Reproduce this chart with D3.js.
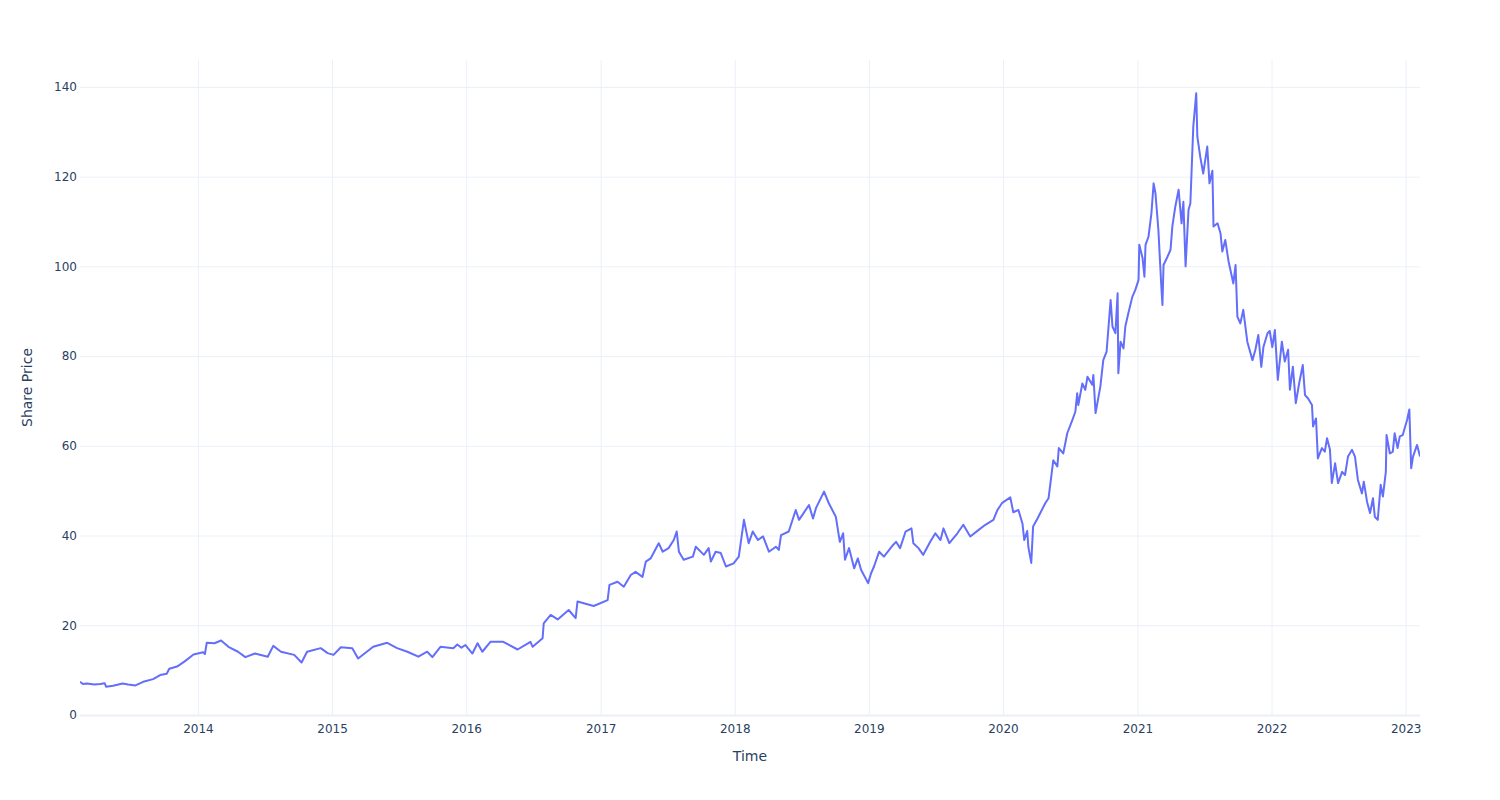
<!DOCTYPE html>
<html>
<head>
<meta charset="utf-8">
<script src="https://cdn.jsdelivr.net/npm/d3@7"></script>
<style>
  html, body { margin: 0; padding: 0; background: #fff; }
  svg { display: block; font-family: "DejaVu Sans", Verdana, sans-serif; }
</style>
</head>
<body>
<svg id="chart" width="1500" height="800"></svg>
<script>
// ---- Data ----
const p2013 = [["2013-02-14",7.4],["2013-02-22",6.9],["2013-03-05",7.0],["2013-03-25",6.8],["2013-04-10",6.9],["2013-04-22",7.1],["2013-04-26",6.3],["2013-05-15",6.5],["2013-06-10",7.0],["2013-06-25",6.8],["2013-07-15",6.6],["2013-08-05",7.4],["2013-09-01",8.0],["2013-09-20",8.9],["2013-10-08",9.2],["2013-10-15",10.3],["2013-11-05",10.8],["2013-11-25",11.9],["2013-12-20",13.5]];
const p2014 = [["2014-01-15",14.0],["2014-01-20",13.6],["2014-01-25",16.1],["2014-02-15",16.0],["2014-03-05",16.6],["2014-03-25",15.2],["2014-04-20",14.1],["2014-05-10",12.9],["2014-06-05",13.7],["2014-07-10",13.0],["2014-07-25",15.4],["2014-08-15",14.1],["2014-09-20",13.4],["2014-10-10",11.7],["2014-10-25",14.1],["2014-12-01",14.9],["2014-12-20",13.8]];
const p2015 = [["2015-01-05",13.4],["2015-01-25",15.1],["2015-02-25",14.9],["2015-03-13",12.6],["2015-04-23",15.2],["2015-05-31",16.1],["2015-06-27",14.9],["2015-07-25",14.1],["2015-08-24",13.0],["2015-09-17",14.1],["2015-10-01",12.9],["2015-10-23",15.2],["2015-11-27",14.9],["2015-12-08",15.7],["2015-12-19",15.0],["2015-12-30",15.6]];
const p2016 = [["2016-01-18",13.7],["2016-02-01",16.0],["2016-02-14",14.1],["2016-03-07",16.3],["2016-04-11",16.3],["2016-05-20",14.6],["2016-06-24",16.3],["2016-06-30",15.2],["2016-07-27",17.1],["2016-07-30",20.4],["2016-08-18",22.3],["2016-09-06",21.3],["2016-10-06",23.4],["2016-10-25",21.6],["2016-10-30",25.3],["2016-12-13",24.3]];
const p2017 = [["2017-01-20",25.6],["2017-01-25",29.0],["2017-02-16",29.7],["2017-03-05",28.6],["2017-03-24",31.2],["2017-04-06",31.9],["2017-04-25",30.8],["2017-05-04",34.2],["2017-05-17",34.9],["2017-06-08",38.3],["2017-06-19",36.4],["2017-07-05",37.2],["2017-07-19",39.0],["2017-07-27",40.9],["2017-08-02",36.4],["2017-08-15",34.6],["2017-09-09",35.3],["2017-09-17",37.5],["2017-10-09",35.7],["2017-10-22",37.2],["2017-10-28",34.2],["2017-11-10",36.4],["2017-11-24",36.1],["2017-12-08",33.1],["2017-12-29",33.8]];
const p2018 = [["2018-01-12",35.3],["2018-01-26",43.5],["2018-02-08",38.3],["2018-02-19",40.9],["2018-03-05",39.0],["2018-03-19",39.8],["2018-04-04",36.4],["2018-04-23",37.5],["2018-05-01",36.8],["2018-05-07",40.1],["2018-05-28",40.9],["2018-06-16",45.7],["2018-06-25",43.5],["2018-07-22",46.8],["2018-08-02",43.8],["2018-08-10",46.1],["2018-09-01",49.8],["2018-09-14",47.2],["2018-10-03",44.2],["2018-10-14",38.6],["2018-10-23",40.5],["2018-10-28",34.6],["2018-11-08",37.2],["2018-11-22",32.7],["2018-12-02",34.9],["2018-12-11",32.3],["2018-12-30",29.4]];
const p2019 = [["2019-01-07",31.6],["2019-01-15",33.1],["2019-01-29",36.4],["2019-02-11",35.3],["2019-03-08",37.9],["2019-03-16",38.6],["2019-03-27",37.2],["2019-04-11",40.9],["2019-04-27",41.6],["2019-05-02",38.3],["2019-05-16",37.2],["2019-05-29",35.7],["2019-06-17",38.6],["2019-07-01",40.5],["2019-07-15",39.0],["2019-07-23",41.6],["2019-08-08",38.3],["2019-08-30",40.5],["2019-09-15",42.4],["2019-10-04",39.8],["2019-10-26",41.2],["2019-11-14",42.4],["2019-12-06",43.5],["2019-12-17",45.7],["2019-12-30",47.3]];
const p2020 = [["2020-01-21",48.5],["2020-01-29",45.2],["2020-02-12",45.7],["2020-02-23",42.7],["2020-02-28",39.0],["2020-03-07",41.0],["2020-03-10",37.5],["2020-03-18",33.9],["2020-03-23",42.0],["2020-04-04",43.8],["2020-04-25",47.2],["2020-05-04",48.3],["2020-05-17",56.8],["2020-05-28",55.4],["2020-06-01",59.5],["2020-06-13",58.3],["2020-06-24",62.8],["2020-07-08",65.8],["2020-07-16",67.6],["2020-07-21",71.7],["2020-07-24",69.1],["2020-08-04",73.9],["2020-08-12",72.5],["2020-08-18",75.4],["2020-08-31",73.6],["2020-09-03",75.8],["2020-09-09",67.3],["2020-09-22",73.2],["2020-09-30",79.1],["2020-10-09",81.0],["2020-10-20",92.5],["2020-10-25",86.6],["2020-11-02",85.1],["2020-11-08",94.0],["2020-11-10",76.2],["2020-11-16",83.2],["2020-11-24",81.7],["2020-11-29",86.6],["2020-12-07",89.5],["2020-12-18",93.2],["2020-12-26",94.7]];
const p2021 = [["2021-01-04",97.0],["2021-01-06",104.8],["2021-01-15",101.8],["2021-01-20",97.7],["2021-01-23",104.8],["2021-01-31",106.6],["2021-02-08",111.8],["2021-02-14",118.5],["2021-02-19",116.3],["2021-02-27",108.1],["2021-03-07",95.5],["2021-03-10",91.4],["2021-03-13",100.3],["2021-03-24",102.2],["2021-04-01",103.7],["2021-04-06",108.9],["2021-04-14",113.3],["2021-04-23",117.1],["2021-05-01",109.6],["2021-05-06",114.4],["2021-05-12",100.0],["2021-05-20",112.6],["2021-05-25",114.0],["2021-06-02",131.2],["2021-06-10",138.6],["2021-06-13",128.9],["2021-06-21",124.4],["2021-06-29",120.7],["2021-07-10",126.7],["2021-07-16",118.5],["2021-07-24",121.3],["2021-07-27",108.9],["2021-08-07",109.6],["2021-08-15",107.4],["2021-08-20",103.3],["2021-08-28",105.9],["2021-09-06",101.1],["2021-09-19",96.2],["2021-09-25",100.3],["2021-09-30",88.8],["2021-10-08",87.3],["2021-10-16",90.3],["2021-10-27",83.2],["2021-11-10",79.1],["2021-11-18",81.4],["2021-11-26",84.7],["2021-12-04",77.6],["2021-12-10",82.1],["2021-12-21",85.1],["2021-12-27",85.6]];
const p2022 = [["2022-01-03",82.0],["2022-01-10",85.8],["2022-01-18",74.7],["2022-01-29",83.2],["2022-02-06",78.8],["2022-02-15",81.4],["2022-02-20",72.5],["2022-02-28",77.6],["2022-03-08",69.5],["2022-03-17",73.9],["2022-03-27",78.0],["2022-04-02",71.3],["2022-04-10",70.6],["2022-04-21",69.1],["2022-04-24",64.3],["2022-05-02",66.1],["2022-05-07",57.2],["2022-05-18",59.5],["2022-05-26",58.7],["2022-06-01",61.7],["2022-06-09",59.1],["2022-06-14",51.7],["2022-06-23",56.1],["2022-07-01",51.7],["2022-07-12",54.2],["2022-07-20",53.5],["2022-07-28",57.6],["2022-08-08",59.1],["2022-08-16",57.6],["2022-08-24",52.4],["2022-09-04",49.4],["2022-09-09",52.0],["2022-09-18",47.5],["2022-09-26",45.0],["2022-10-04",48.3],["2022-10-09",44.2],["2022-10-17",43.5],["2022-10-25",51.3],["2022-10-31",48.7],["2022-11-08",54.2],["2022-11-10",62.4],["2022-11-19",58.3],["2022-11-27",58.7],["2022-12-02",62.8],["2022-12-10",59.5],["2022-12-16",62.1],["2022-12-24",62.4]];
const p2023 = [["2023-01-05",65.8],["2023-01-11",68.1],["2023-01-16",55.0],["2023-01-21",57.6],["2023-02-01",60.2],["2023-02-09",57.6]];

const yTickValues = [0, 20, 40, 60, 80, 100, 120, 140];
const xTitle = "Time";
const yTitle = "Share Price";

// ---- Build ----
const parse = d3.timeParse("%Y-%m-%d");
const series = [].concat(p2013, p2014, p2015, p2016, p2017, p2018, p2019, p2020, p2021, p2022, p2023)
  .map(([d, v]) => ({ date: parse(d), value: v }));

const W = 1500, H = 800;
const margin = { top: 60, right: 80, bottom: 85, left: 80 };
const plotW = W - margin.left - margin.right;
const plotH = H - margin.top - margin.bottom;

const svg = d3.select("#chart");
svg.append("rect").attr("width", W).attr("height", H).attr("fill", "#fff");

const x = d3.scaleTime().domain(d3.extent(series, d => d.date)).range([0, plotW]);
const y = d3.scaleLinear().domain([0, 146]).range([plotH, 0]);

const g = svg.append("g").attr("transform", `translate(${margin.left},${margin.top})`);

// gridlines + labels via axes
const yAxis = g.append("g")
  .call(d3.axisLeft(y).tickValues(yTickValues).tickSize(-plotW).tickPadding(3).tickFormat(d3.format("d")));
yAxis.select(".domain").remove();
yAxis.selectAll(".tick line").attr("stroke", "#EBF0F8").attr("stroke-width", d => d === 0 ? 2 : 1);
yAxis.selectAll(".tick text").attr("fill", "#2a3f5f").style("font-size", "12px")
  .style("font-family", '"DejaVu Sans", Verdana, sans-serif');

const xAxis = g.append("g").attr("transform", `translate(0,${plotH})`)
  .call(d3.axisBottom(x).ticks(d3.timeYear.every(1)).tickSize(-plotH).tickPadding(9).tickFormat(d3.timeFormat("%Y")));
xAxis.select(".domain").remove();
xAxis.selectAll(".tick line").attr("stroke", "#EBF0F8").attr("stroke-width", 1);
xAxis.selectAll(".tick text").attr("fill", "#2a3f5f").style("font-size", "12px")
  .style("font-family", '"DejaVu Sans", Verdana, sans-serif');

// keep the zero line on top of vertical grid
yAxis.raise();

// clip
svg.append("defs").append("clipPath").attr("id", "clip")
  .append("rect").attr("width", plotW).attr("height", plotH);

const line = d3.line().x(d => x(d.date)).y(d => y(d.value));
g.append("path")
  .datum(series)
  .attr("clip-path", "url(#clip)")
  .attr("fill", "none")
  .attr("stroke", "#636efa")
  .attr("stroke-width", 2)
  .attr("stroke-linejoin", "round")
  .attr("d", line);

// axis titles
svg.append("text")
  .attr("x", margin.left + plotW / 2).attr("y", 761)
  .attr("text-anchor", "middle").attr("fill", "#2a3f5f").style("font-size", "14px")
  .text(xTitle);
svg.append("text")
  .attr("transform", `translate(32,${margin.top + plotH / 2}) rotate(-90)`)
  .attr("text-anchor", "middle").attr("fill", "#2a3f5f").style("font-size", "14px")
  .text(yTitle);
</script>
</body>
</html>
